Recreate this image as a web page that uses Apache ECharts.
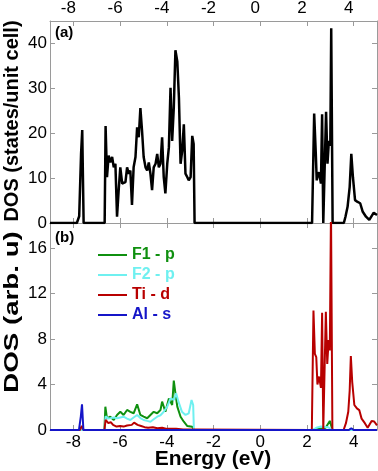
<!DOCTYPE html>
<html>
<head>
<meta charset="utf-8">
<script src="https://cdn.jsdelivr.net/npm/echarts@6/dist/echarts.min.js"></script>
<style>
html,body{margin:0;padding:0;background:#fff;}
#chart{width:378px;height:471px;}
</style>
</head>
<body>
<div id="chart"></div>
<script>
// ---- Data ----
var xTicks = [-8, -6, -4, -2, 0, 2, 4];
var yTicksTop = [0, 10, 20, 30, 40];
var yTicksBottom = [0, 4, 8, 12, 16];

// Panel (a): total DOS
var totalE = [-9.0,-7.85,-7.75,-7.67,-7.62,-7.56,-6.66,-6.62,-6.56,-6.49,-6.42,-6.34,-6.27,-6.2,-6.13,-6.06,-5.99,-5.91,-5.85,-5.77,-5.7,-5.63,-5.56,-5.49,-5.42,-5.34,-5.27,-5.2,-5.13,-5.06,-4.99,-4.91,-4.84,-4.77,-4.7,-4.63,-4.56,-4.48,-4.41,-4.34,-4.27,-4.2,-4.13,-4.06,-3.98,-3.91,-3.84,-3.77,-3.7,-3.63,-3.55,-3.48,-3.41,-3.34,-3.27,-3.2,-3.12,-3.06,-2.98,-2.91,-2.85,-2.81,2.22,2.31,2.38,2.42,2.47,2.52,2.6,2.65,2.7,2.77,2.82,2.88,2.94,3.0,3.04,3.1,3.58,3.65,3.74,3.83,3.9,3.97,4.06,4.17,4.28,4.39,4.53,4.67,4.86,5.0];
var totalDos = [0,0,1.5,15.4,20.7,0,0,21.6,10.2,15.0,13.5,14.7,12.4,13.2,1.4,7.3,12.4,8.8,8.4,9.1,12.4,11.0,11.7,4.0,12.4,14.7,21.3,19.1,25.6,20.6,14.7,12.4,11.7,13.5,11.0,7.3,12.4,13.2,15.4,12.4,13.2,19.1,10.2,6.6,13.2,16.9,30.1,18.3,25.7,38.5,36.0,27.9,13.2,16.1,22.0,11.0,10.2,9.5,10.2,19.4,17.6,0,0,24.4,15.4,9.5,10.8,11.3,8.8,24.2,0,0,24.8,13.2,18.3,17.2,43.4,0,0,1.4,3.6,8.0,15.4,10.2,5.1,4.7,4.4,2.5,1.4,0.7,2.3,1.8];

// Panel (b): projected DOS
var f1E = [-9,-7.7,-7.62,-7.55,-6.67,-6.63,-6.56,-6.42,-6.27,-6.13,-5.99,-5.85,-5.7,-5.56,-5.42,-5.27,-5.13,-4.99,-4.84,-4.7,-4.56,-4.41,-4.27,-4.2,-4.06,-3.91,-3.77,-3.7,-3.63,-3.55,-3.41,-3.27,-3.12,-2.91,-2.84,2.25,2.5,2.8,2.98,3.05,3.1,3.8,3.9,4.0,5];
var f1Dos = [0,0,0.1,0,0,2.05,1.03,1.17,0.88,1.32,1.6,1.32,1.76,1.6,1.47,2.26,1.32,1.17,1.03,1.32,1.6,1.47,1.76,2.49,1.6,2.78,2.2,4.34,3.22,2.05,1.17,0.73,0.35,0.29,0,0,0.1,0.2,0.8,0.3,0,0,0.1,0,0];

var f2E = [-9,-6.67,-6.62,-6.5,-6.42,-6.27,-6.13,-5.99,-5.85,-5.7,-5.56,-5.42,-5.27,-5.13,-4.99,-4.84,-4.7,-4.56,-4.41,-4.27,-4.13,-3.98,-3.84,-3.7,-3.6,-3.5,-3.35,-3.2,-3.06,-2.94,-2.87,-2.84,2.25,2.4,2.6,2.9,3.1,5];
var f2Dos = [0,0,1.2,1.0,1.03,1.1,1.03,1.1,1.17,1.0,0.88,1.1,1.32,1.05,0.88,0.8,0.73,0.95,1.17,1.3,1.6,2.05,2.78,2.64,3.22,2.49,1.6,1.32,1.47,2.64,2.2,0,0,0.2,0.3,0.25,0,0];

var tiE = [-9,-7.72,-7.64,-7.56,-6.67,-6.62,-6.5,-6.4,-6.3,-6.15,-6.0,-5.85,-5.7,-5.5,-5.4,-5.25,-5.1,-4.95,-4.8,-4.6,-4.4,-4.2,-4.0,-3.8,-3.6,-3.3,-2.9,-2.84,2.21,2.28,2.34,2.4,2.45,2.52,2.6,2.65,2.7,2.77,2.81,2.87,2.93,2.98,3.03,3.09,3.57,3.67,3.77,3.83,3.88,3.94,4.03,4.14,4.24,4.34,4.48,4.6,4.77,4.88,5.0];
var tiDos = [0,0,0.35,0,0,0.9,0.6,0.7,0.45,0.3,0.35,0.3,0.4,0.45,0.65,0.45,0.35,0.25,0.2,0.25,0.15,0.2,0.1,0.12,0.1,0.05,0.05,0,0,10.5,6.7,6.4,4.0,4.7,3.7,10.3,0,0,10.4,5.8,7.9,7.0,19.5,0,0,0.6,1.6,3.45,6.5,4.2,2.2,1.9,1.75,1.0,0.6,0.2,0.8,0.75,0.4];

var alE = [-9,-7.76,-7.68,-7.63,-7.57,3.8,3.9,4.0,5];
var alDos = [0,0,1.2,2.26,0,0,0.15,0,0];

var seriesNames = ['F1 - p', 'F2 - p', 'Ti - d', 'Al - s'];
var seriesColors = ['#0f900f', '#6ff0f0', '#b80000', '#1515c8'];

function zip(a, b) { return a.map(function (v, i) { return [v, b[i]]; }); }

var FONT = '"Liberation Sans", Arial, sans-serif';
var AXC = '#9a9a9a';

function xAx(grid, pos, labels, pad) {
  return {
    type: 'value', gridIndex: grid, position: pos, min: -9, max: 5,
    axisLine: { show: true, onZero: false, lineStyle: { color: AXC, width: 1 } },
    axisTick: { show: true, inside: true, length: 5, customValues: xTicks, lineStyle: { color: AXC } },
    axisLabel: { show: labels, customValues: xTicks, margin: 4, color: '#000', fontSize: 17, fontFamily: FONT, padding: pad || 0 },
    splitLine: { show: false }
  };
}
function yAx(grid, pos, labels, max, ticks) {
  return {
    type: 'value', gridIndex: grid, position: pos, min: 0, max: max,
    axisLine: { show: true, onZero: false, lineStyle: { color: AXC, width: 1 } },
    axisTick: { show: true, inside: true, length: 5, customValues: ticks, lineStyle: { color: AXC } },
    axisLabel: { show: labels, customValues: ticks, margin: 3, color: '#000', fontSize: 17, fontFamily: FONT },
    splitLine: { show: false }
  };
}

var chart = echarts.init(document.getElementById('chart'), null, { renderer: 'canvas' });

var pdos = [zip(f1E, f1Dos), zip(f2E, f2Dos), zip(tiE, tiDos), zip(alE, alDos)];

var series = [{
  type: 'line', name: 'total', xAxisIndex: 0, yAxisIndex: 0,
  data: zip(totalE, totalDos), symbol: 'none', silent: true,
  lineStyle: { color: '#000', width: 2.5 }, clip: true
}];
seriesNames.forEach(function (n, i) {
  series.push({
    type: 'line', name: n, xAxisIndex: 2, yAxisIndex: 2,
    data: pdos[i], symbol: 'none', silent: true, clip: true,
    itemStyle: { color: seriesColors[i] },
    lineStyle: { color: seriesColors[i], width: 2 }
  });
});

chart.setOption({
  animation: false,
  backgroundColor: '#fff',
  grid: [
    { left: 50, top: 19, width: 327, height: 204 },
    { left: 50, top: 223, width: 327, height: 207 }
  ],
  xAxis: [
    xAx(0, 'top', true, [0, 10, 0, 0]),
    xAx(0, 'bottom', false),
    xAx(1, 'bottom', true),
    xAx(1, 'top', false)
  ],
  yAxis: [
    yAx(0, 'left', true, 45, yTicksTop),
    yAx(0, 'right', false, 45, yTicksTop),
    yAx(1, 'left', true, 18.2, yTicksBottom),
    yAx(1, 'right', false, 18.2, yTicksBottom)
  ],
  legend: {
    orient: 'vertical', left: 93, top: 240, icon: 'rect',
    itemWidth: 29, itemHeight: 2, itemGap: 0, selectedMode: false,
    textStyle: { fontSize: 16, fontWeight: 'bold', fontFamily: FONT, lineHeight: 20 },
    data: seriesNames.map(function (n, i) { return { name: n, textStyle: { color: seriesColors[i] } }; })
  },
  graphic: [
    { type: 'text', x: 55, y: 33, style: { text: '(a)', font: 'bold 15px ' + FONT, fill: '#000', textVerticalAlign: 'middle' } },
    { type: 'text', x: 55, y: 238, style: { text: '(b)', font: 'bold 15px ' + FONT, fill: '#000', textVerticalAlign: 'middle' } },
    { type: 'text', x: 12, y: 121, rotation: Math.PI / 2, style: { text: 'DOS (states/unit cell)', font: 'bold 20px ' + FONT, fill: '#000', textAlign: 'center', textVerticalAlign: 'middle' } },
    { type: 'text', x: 12, y: 312, rotation: Math.PI / 2, scaleX: 1.32, style: { text: 'DOS (arb. u)', font: 'bold 21px ' + FONT, fill: '#000', textAlign: 'center', textVerticalAlign: 'middle' } },
    { type: 'text', x: 213, y: 459, style: { text: 'Energy (eV)', font: 'bold 21px ' + FONT, fill: '#000', textAlign: 'center', textVerticalAlign: 'middle' } }
  ],
  series: series
});
</script>
</body>
</html>
